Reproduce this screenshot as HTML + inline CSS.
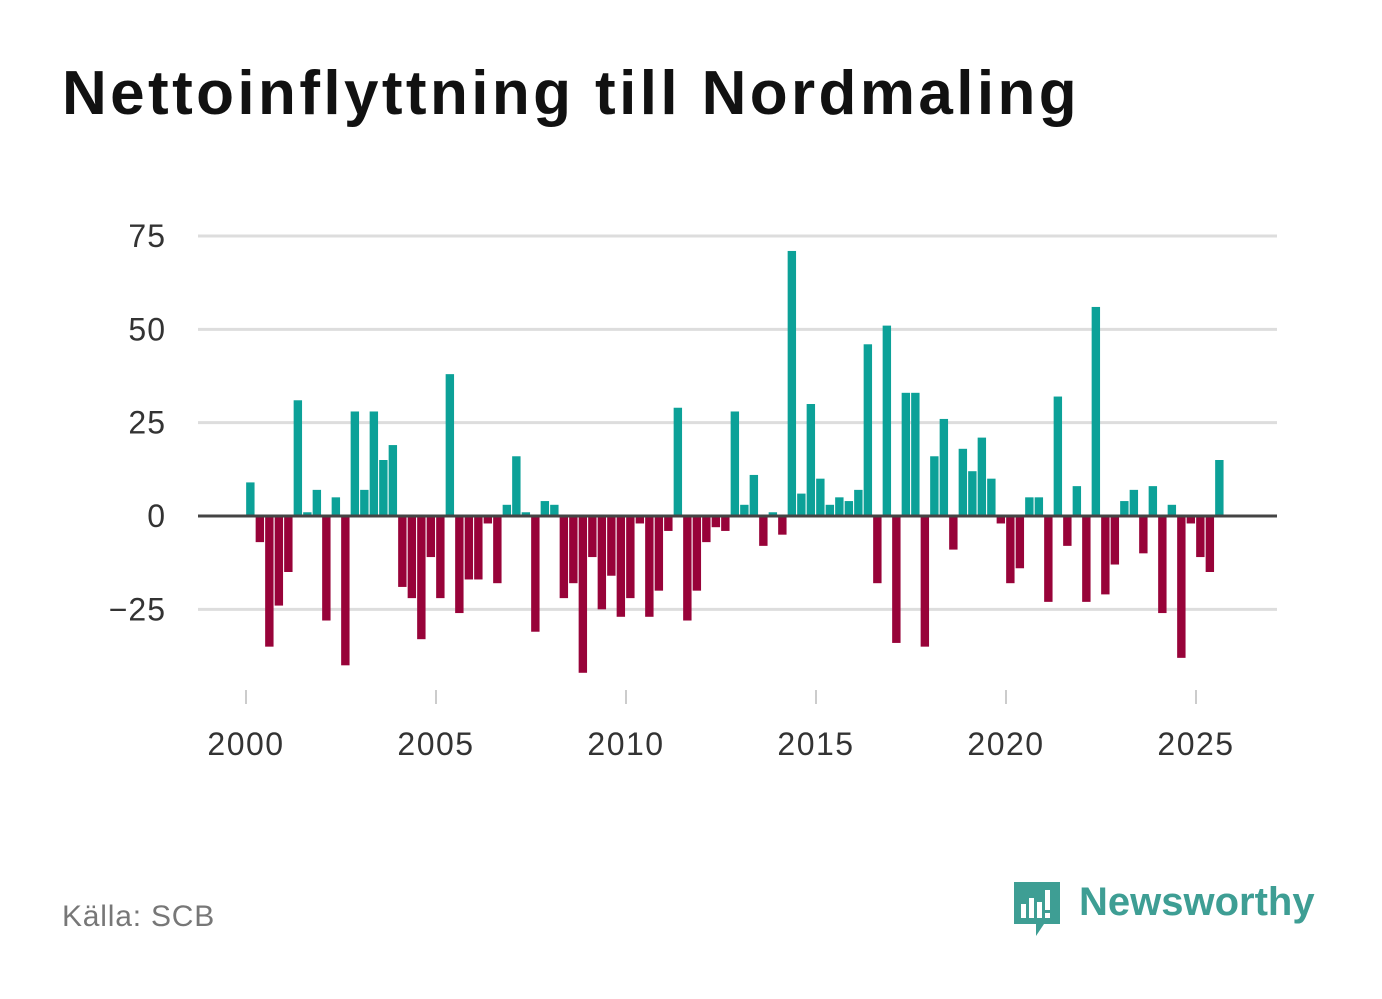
<!DOCTYPE html>
<html><head><meta charset="utf-8">
<style>
body{margin:0;background:#fff;width:1382px;height:999px;overflow:hidden;font-family:"Liberation Sans",sans-serif}
</style></head>
<body>
<div style="position:absolute;left:62px;top:58px;font-size:62px;font-weight:bold;color:#111;letter-spacing:3.4px;white-space:nowrap">Nettoinflyttning till Nordmaling</div>
<svg id="chart" width="1382" height="999" style="position:absolute;left:0;top:0"></svg>
<div style="position:absolute;left:62px;top:900px;font-size:30px;color:#777;letter-spacing:0.8px">Källa: SCB</div>
<div style="position:absolute;left:1012px;top:880px;width:310px;height:60px">
<svg width="50" height="60" style="position:absolute;left:0;top:0"><path d="M2 2h46v42h-16l-8 12v-12h-22z" fill="#3e9e94"/><rect x="9" y="24" width="5" height="14" fill="#fff"/><rect x="17" y="18" width="5" height="20" fill="#fff"/><rect x="25" y="22" width="5" height="16" fill="#fff"/><rect x="33" y="10" width="5" height="20" fill="#fff"/><rect x="33" y="33" width="5" height="5" fill="#fff"/></svg>
<div style="position:absolute;left:67px;top:0px;font-size:40px;font-weight:bold;color:#3e9e94">Newsworthy</div>
</div>
<script>
const years=[2000,2005,2010,2015,2020,2025];
const yTicks=[75,50,25,0,-25];
const yTickLabels=["75","50","25","0","\u221225"];
const values=[9,-7,-35,-24,-15,31,1,7,-28,5,-40,28,7,28,15,19,-19,-22,-33,-11,-22,38,-26,-17,-17,-2,-18,3,16,1,-31,4,3,-22,-18,-42,-11,-25,-16,-27,-22,-2,-27,-20,-4,29,-28,-20,-7,-3,-4,28,3,11,-8,1,-5,71,6,30,10,3,5,4,7,46,-18,51,-34,33,33,-35,16,26,-9,18,12,21,10,-2,-18,-14,5,5,-23,32,-8,8,-23,56,-21,-13,4,7,-10,8,-26,3,-38,-2,-11,-15,15];
const svg=document.getElementById('chart');
const NS='http://www.w3.org/2000/svg';
const x=t=>246+(t-2000)*38;
const y=v=>516-v*3.733;
function el(tag,attrs){const e=document.createElementNS(NS,tag);for(const k in attrs)e.setAttribute(k,attrs[k]);svg.appendChild(e);return e;}
yTicks.forEach((t,i)=>{
  const g=el('line',{x1:198,x2:1277,y1:y(t),y2:y(t),stroke:'#ddd','stroke-width':3});
  
  
  const tx=el('text',{x:166,y:y(t)+11,'text-anchor':'end','font-size':32,fill:'#333','font-family':'Liberation Sans, sans-serif','letter-spacing':1});
  tx.textContent=yTickLabels[i];
  
  
});
values.forEach((v,i)=>{
  const cx=x(2000+(i+0.5)/4);
  const r=el('rect',{x:cx-4.6,width:8.4,y:Math.min(y(v),y(0)),height:Math.abs(y(v)-y(0)),fill:v>=0?'#0ca198':'#980339'});
  
  
});
const z=el('line',{x1:198,x2:1277,y1:y(0),y2:y(0),stroke:'#444','stroke-width':3});


years.forEach(yr=>{
  const tk=el('line',{x1:x(yr),x2:x(yr),y1:690,y2:704,stroke:'#ccc','stroke-width':2});
  
  
  const tx=el('text',{x:x(yr),y:755,'text-anchor':'middle','font-size':32,fill:'#333','font-family':'Liberation Sans, sans-serif','letter-spacing':1.5});
  tx.textContent=yr;
  
  
});
</script>
</body></html>
